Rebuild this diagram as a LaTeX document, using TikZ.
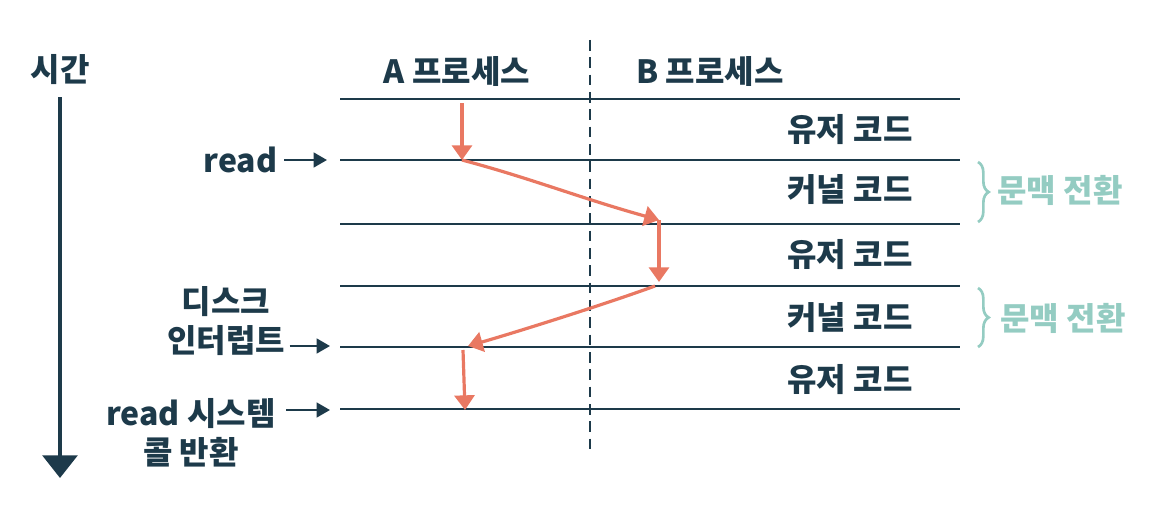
\documentclass[tikz,border=0pt]{standalone}
\usepackage{fontspec}
\setmainfont{Noto Sans CJK KR}
\usetikzlibrary{calc, positioning, arrows.meta, decorations.pathreplacing}
\definecolor{ink}{HTML}{1D3A4A}
\definecolor{salmon}{HTML}{E97862}
\definecolor{mint}{HTML}{94CCC2}
\begin{document}
\begin{tikzpicture}[x=0.75pt, y=-0.75pt, font=\fontsize{24}{29}\selectfont\bfseries, text=ink,
			row/.style={draw=ink, line width=1.8pt},
			divider/.style={draw=ink, line width=1.5pt, dash pattern=on 8pt off 5pt},
			flow/.style={draw=salmon, line width=2.4pt, -{Triangle[length=11pt,width=15pt]}},
			tick/.style={draw=ink, line width=1.8pt, -{Triangle[length=10pt,width=11pt]}},
			timeline/.style={draw=ink, line width=3pt, -{Triangle[length=17pt,width=26pt]}},
			switchbrace/.style={draw=mint, line width=2pt, decorate, decoration={brace, amplitude=8pt}}]
			\useasboundingbox (0,0) rectangle (1163,510);
			% time axis
			\node (time) at (60,70) {시간};
			\coordinate (t0) at (60,97);
			\coordinate (t1) at (60,478);
			\draw[timeline] (t0) -- (t1);
			
			% rows
			\foreach \y [count=\i] in {99,160,224,286,347,409} {
				\coordinate (L\i) at (340,\y);
				\coordinate (R\i) at (960,\y);
				\draw[row] (L\i) -- (R\i);
			};
			\coordinate (top) at (590,40);
			\coordinate (bot) at (590,453);
			\draw[divider] (top) -- (bot);
			
			\node (procA) at (457,72) {A 프로세스};
			\node (procB) at (710,72) {B 프로세스};
			
			\foreach \y/\t [count=\i] in {130/유저 코드, 190/커널 코드, 255/유저 코드, 318/커널 코드, 380/유저 코드} {
				\node (code\i) at (850,\y) {\t};
			};
			
			% context switches
			\coordinate (s1) at (978,162);
			\coordinate (s2) at (978,222);
			\coordinate (s3) at (978,288);
			\coordinate (s4) at (978,347);
			\draw[switchbrace] (s1) -- (s2);
			\draw[switchbrace] (s3) -- (s4);
			\node[text=mint] (sw1) at (1060,190) {문맥 전환};
			\node[text=mint] (sw2) at (1063,318) {문맥 전환};
			
			% execution flow
			\coordinate (a0) at (462,103);
			\coordinate (a1) at (462,160);
			\coordinate (b0) at (659,220);
			\coordinate (b1) at (659,282);
			\coordinate (b2) at (655,286);
			\coordinate (c0) at (468,346);
			\coordinate (c1) at (463,350);
			\coordinate (c2) at (465,410);
			\draw[flow] (a0) -- (a1);
			\draw[flow] (a1) .. controls (530,178) and (580,198) .. (b0);
			\draw[flow] (b0) -- (b1);
			\draw[flow] (b2) .. controls (600,306) and (510,334) .. (c0);
			\draw[flow] (c1) -- (c2);
			
			% events
			\node[anchor=east] (read) at (282,160) {read};
			\node[align=center] (disk) at (226,321) {디스크\\인터럽트};
			\node[align=center] (ret) at (191,433) {read 시스템\\콜 반환};
			\coordinate (e1) at (327,160);
			\coordinate (e2) at (330,346);
			\coordinate (e3) at (330,410);
			\draw[tick] (read.east) ++(2,0) -- (e1);
			\draw[tick] (disk.east |- e2) ++(0,0) -- (e2);
			\draw[tick] (ret.east |- e3) ++(6,0) -- (e3);
		\end{tikzpicture}
\end{document}
